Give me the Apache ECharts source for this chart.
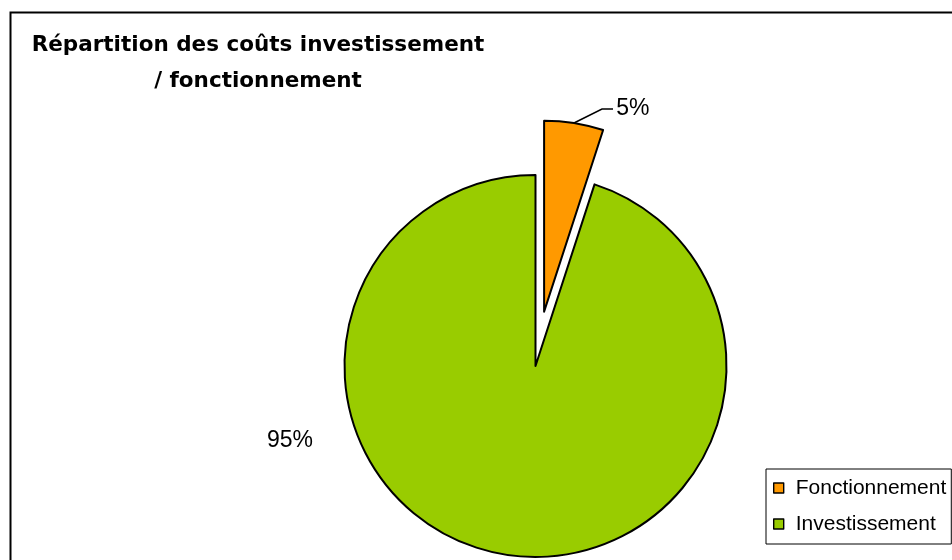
<!DOCTYPE html>
<html>
<head>
<meta charset="utf-8">
<script src="https://cdn.jsdelivr.net/npm/echarts@6/dist/echarts.min.js"></script>
<style>
  html, body { margin: 0; padding: 0; background: #fff; }
  #chart { width: 952px; height: 560px; }
</style>
</head>
<body>
<div id="chart"></div>
<script>
// Cost split between running costs and investment
const categories = ['Fonctionnement', 'Investissement'];
const shares = [5, 95];
const colors = ['#FF9900', '#99CC00'];

const CX = 535.5, CY = 366, RADIUS = 191, OFFSET = 55;

const chart = echarts.init(document.getElementById('chart'), null, { renderer: 'canvas' });

const total = shares.reduce((a, b) => a + b, 0);

chart.setOption({
  animation: false,
  backgroundColor: '#ffffff',
  title: {
    text: 'Répartition des coûts investissement\n/ fonctionnement',
    left: 258,
    top: 27,
    padding: 0,
    textAlign: 'center',
    textStyle: {
      fontFamily: 'DejaVu Sans',
      fontWeight: 'bold',
      fontSize: 21.5,
      lineHeight: 36,
      color: '#000'
    }
  },
  legend: {
    orient: 'vertical',
    left: 766,
    top: 469,
    padding: [8, 5, 9, 7],
    borderColor: '#000',
    borderWidth: 1,
    itemWidth: 10,
    itemHeight: 10,
    itemGap: 14,
    icon: 'rect',
    itemStyle: { borderColor: '#000', borderWidth: 1.4 },
    textStyle: {
      fontFamily: 'Liberation Sans',
      fontSize: 21,
      lineHeight: 22,
      color: '#000',
      padding: [0, 0, 0, 7]
    },
    data: categories
  },
  graphic: [{
    type: 'rect',
    shape: { x: 10.5, y: 12.5, width: 1000, height: 700 },
    style: { fill: 'none', stroke: '#000', lineWidth: 2 },
    silent: true
  }],
  series: [{
    type: 'pie',
    center: [CX, CY],
    radius: RADIUS,
    startAngle: 90,
    clockwise: true,
    avoidLabelOverlap: false,
    selectedMode: 'single',
    selectedOffset: OFFSET,
    itemStyle: { borderColor: '#000', borderWidth: 2 },
    label: {
      show: true,
      position: 'outside',
      formatter: '{c}%',
      fontFamily: 'Liberation Sans',
      fontSize: 23,
      color: '#000'
    },
    labelLine: {
      show: true,
      lineStyle: { color: '#000', width: 1.5 }
    },
    emphasis: { disabled: true },
    labelLayout: function (p) {
      if (p.dataIndex === 1) {
        return { x: 290, y: 441, align: 'center', verticalAlign: 'middle' };
      }
      // leader line: from the outer arc of the pulled-out slice to the text;
      // the guide line already carries the slice's select offset, so points
      // are given in the slice's un-offset frame
      const mid = Math.PI * shares[0] / total;
      const ox = OFFSET * Math.sin(mid);
      const oy = -OFFSET * Math.cos(mid);
      const sx = CX + RADIUS * Math.sin(mid);
      const sy = CY - RADIUS * Math.cos(mid);
      const ex = 613, ey = 109;
      return {
        labelLinePoints: [[sx, sy], [ex - 11 - ox, ey - oy], [ex - ox, ey - oy]]
      };
    },
    data: categories.map((name, i) => ({
      name: name,
      value: shares[i],
      selected: i === 0,
      itemStyle: { color: colors[i] },
      select: { itemStyle: { color: colors[i], borderColor: '#000', borderWidth: 2 } },
      label: i === 0 ? { padding: [5, 0, 0, 5] } : {},
      labelLine: { show: i === 0 }
    }))
  }]
});
</script>
</body>
</html>
